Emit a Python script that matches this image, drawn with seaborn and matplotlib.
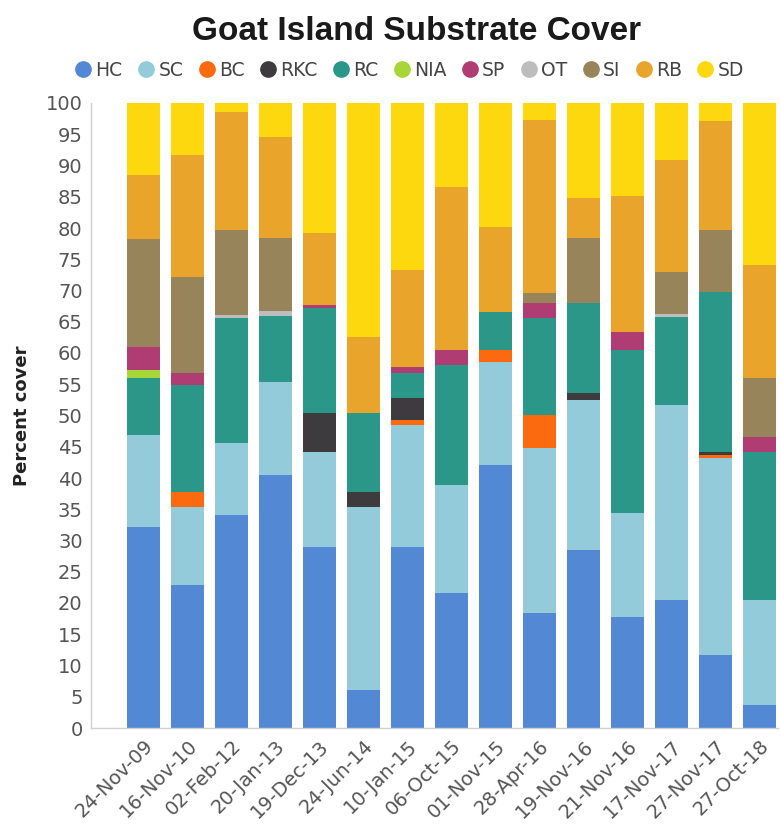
import matplotlib
matplotlib.use("Agg")
import matplotlib.pyplot as plt
from matplotlib.lines import Line2D
import numpy as np
import pandas as pd
import seaborn as sns

# Survey dates
dates = ["24-Nov-09", "16-Nov-10", "02-Feb-12", "20-Jan-13", "19-Dec-13",
         "24-Jun-14", "10-Jan-15", "06-Oct-15", "01-Nov-15", "28-Apr-16",
         "19-Nov-16", "21-Nov-16", "17-Nov-17", "27-Nov-17", "27-Oct-18"]

# Percent cover of each substrate class per survey
HC = [32.2, 22.9, 34.1, 40.5, 29.0, 6.1, 29.0, 21.6, 42.1, 18.4, 28.5, 17.8, 20.5, 11.7, 3.7]
SC = [14.7, 12.5, 11.5, 14.9, 15.2, 29.3, 19.5, 17.3, 16.5, 26.4, 24.0, 16.6, 31.2, 31.5, 16.8]
BC = [0, 2.4, 0, 0, 0, 0, 0.8, 0, 1.9, 5.3, 0, 0, 0, 0.5, 0]
RKC = [0, 0, 0, 0, 6.2, 2.4, 3.5, 0, 0, 0, 1.1, 0, 0, 0.5, 0]
RC = [9.1, 17.1, 20.0, 10.5, 16.8, 12.6, 4.0, 19.2, 6.1, 15.5, 14.4, 26.1, 14.1, 25.6, 23.7]
NIA = [1.2, 0, 0, 0, 0, 0, 0, 0, 0, 0, 0, 0, 0, 0, 0]
SP = [3.7, 1.9, 0, 0, 0.5, 0, 1.0, 2.4, 0, 2.4, 0, 2.9, 0, 0, 2.4]
OT = [0, 0, 0.5, 0.8, 0, 0, 0, 0, 0, 0, 0, 0, 0.5, 0, 0]
SI = [17.4, 15.4, 13.6, 11.7, 0, 0, 0, 0, 0, 1.6, 10.4, 0, 6.7, 9.9, 9.4]
RB = [10.1, 19.5, 18.9, 16.2, 11.5, 12.2, 15.5, 26.1, 13.6, 27.7, 6.4, 21.7, 17.9, 17.4, 18.1]
SD = [11.6, 8.3, 1.4, 5.4, 20.8, 37.4, 26.7, 13.4, 19.8, 2.7, 15.2, 14.9, 9.1, 2.9, 25.9]

categories = ["HC", "SC", "BC", "RKC", "RC", "NIA", "SP", "OT", "SI", "RB", "SD"]
series = [HC, SC, BC, RKC, RC, NIA, SP, OT, SI, RB, SD]
colors = ["#5288d4", "#93cbdb", "#fb6a0f", "#3d3b3d", "#2a9789", "#a6d637",
          "#b03c74", "#bdbdbd", "#97845a", "#e9a42b", "#fdd80f"]

y_ticks = list(range(0, 101, 5))

sns.set_theme(style="white")
plt.rcParams["font.family"] = ["DejaVu Sans"]

df = pd.DataFrame(dict(zip(categories, series)), index=dates)
cum = df.cumsum(axis=1)

fig = plt.figure(figsize=(7.8, 8.3), dpi=100)
ax = fig.add_axes([91 / 780, 1 - 728 / 830, (778 - 91) / 780, (728 - 103) / 830])

# Stacked bars: draw running totals from the top class down
for cat, col in zip(reversed(categories), reversed(colors)):
    sub = pd.DataFrame({"date": dates, "total": cum[cat].values})
    sns.barplot(data=sub, x="date", y="total", order=dates, color=col,
                saturation=1, width=0.75, errorbar=None, ax=ax, linewidth=0)

ax.set_xlim(-1.19, 14.42)
ax.set_ylim(0, 100)
ax.set_yticks(y_ticks)
ax.set_yticklabels([str(v) for v in y_ticks], fontsize=14, color="#555555")
ax.tick_params(axis="both", length=0, pad=6)
ax.set_xticks(range(len(dates)))
ax.set_xticklabels(dates, rotation=45, ha="right", rotation_mode="anchor",
                   fontsize=14, color="#555555")
ax.set_xlabel("")
ax.set_ylabel("Percent cover", fontsize=13, fontweight="bold", color="#222222")
ax.yaxis.set_label_coords(-0.088, 0.5)

for side in ["top", "right"]:
    ax.spines[side].set_visible(False)
for side in ["left", "bottom"]:
    ax.spines[side].set_color("#d0d0d0")
    ax.spines[side].set_linewidth(1)

fig.text(417 / 780, 1 - 31 / 830, "Goat Island Substrate Cover", ha="center",
         va="center", fontsize=24, fontweight="bold", color="#1a1a1a",
         family="Liberation Sans")

handles = [Line2D([0], [0], marker="o", linestyle="", markersize=11,
                  markerfacecolor=c, markeredgecolor=c) for c in colors]
fig.legend(handles, categories, loc="center", ncol=len(categories),
           bbox_to_anchor=(408 / 780, 1 - 70 / 830), frameon=False,
           fontsize=13.5, handletextpad=0.05, columnspacing=0.65,
           handlelength=1.2, labelcolor="#444444")

fig.savefig("out.png", dpi=100)
